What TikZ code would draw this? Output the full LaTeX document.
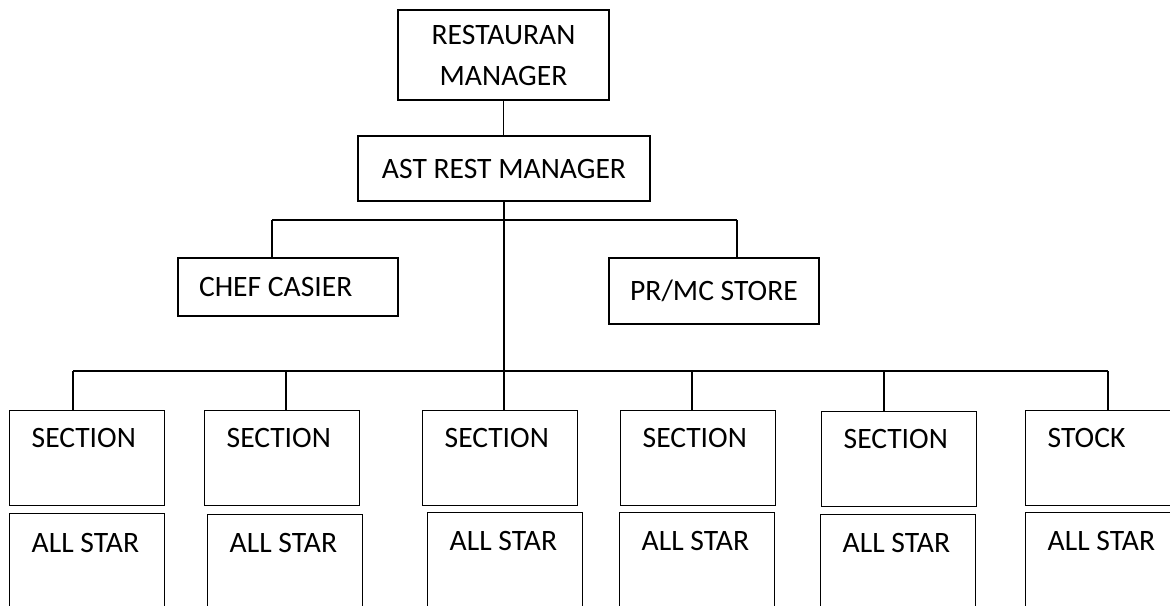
\documentclass[tikz,border=0pt]{standalone}
\usepackage{fontspec}
\setmainfont{Carlito}
\usepackage{tikz}

\tikzset{
  poste/.style={draw, inner sep=0pt, font=\fontsize{14.8}{20.5}\selectfont},
  postec/.style={poste, align=center},
  postel/.style={poste, anchor=north west, text width=55.5pt, inner xsep=11pt, align=flush left},
}

\begin{document}
\begin{tikzpicture}[x=0.5pt, y=-0.5pt, line width=0.7pt]

% Cadre de la page
\useasboundingbox (0,0) rectangle (1170,605);
\clip (0,0) rectangle (1170,605);

% Direction
\node[postec, minimum width=105.5pt, minimum height=45pt] (rm) at (503.5,55) {RESTAURAN\\MANAGER};
\node[postec, minimum width=146pt, minimum height=32.5pt] (ast) at (504,168.5) {AST REST MANAGER};

% Liaison direction - adjoint
\draw (rm.south) -- (rm.south |- ast.north);

% Deuxieme niveau
\node[poste, minimum height=29pt, text width=89pt, inner xsep=10.5pt, align=flush left] (chef) at (288,287) {CHEF CASIER};
\node[postec, minimum width=105pt, minimum height=33pt] (prmc) at (714,291) {PR/MC STORE};

% Barre du deuxieme niveau
\coordinate (b1g) at (272,220);
\coordinate (b1d) at (737,220);
\draw (b1g) -- (b1d);
\draw (b1g) -- (b1g |- chef.north);
\draw (b1d) -- (b1d |- prmc.north);

% Sections (haut)
\node[postel, text height=18.5pt, text depth=29pt] (s1) at (9,410) {SECTION};
\node[postel, text height=18.5pt, text depth=29pt] (s2) at (204,410) {SECTION};
\node[postel, text height=18.5pt, text depth=29pt] (s3) at (422,410) {SECTION};
\node[postel, text height=18.5pt, text depth=29pt] (s4) at (620,410) {SECTION};
\node[postel, text height=18.5pt, text depth=29pt] (s5) at (821,411) {SECTION};
\node[postel, text height=18.5pt, text depth=29pt] (s6) at (1025,410) {STOCK};

% All star (bas, coupes par le bord)
\node[postel, text height=19.5pt, text depth=40pt] (a1) at (9,513) {ALL STAR};
\node[postel, text height=19pt, text depth=40pt] (a2) at (207,514) {ALL STAR};
\node[postel, text height=19pt, text depth=40pt] (a3) at (427,512) {ALL STAR};
\node[postel, text height=19pt, text depth=40pt] (a4) at (619,512) {ALL STAR};
\node[postel, text height=19pt, text depth=40pt] (a5) at (820,514) {ALL STAR};
\node[postel, text height=19pt, text depth=40pt] (a6) at (1025,512) {ALL STAR};

% Tronc central
\draw (ast.south) -- (ast.south |- s3.north);

% Barre des sections
\coordinate (b2g) at (73,371);
\coordinate (b2d) at (1108,371);
\draw (b2g) -- (b2d);
\draw (b2g) -- (b2g |- s1.north);
\draw (286,371) -- (286,371 |- s2.north);
\draw (692,371) -- (692,371 |- s4.north);
\draw (884,371) -- (884,371 |- s5.north);
\draw (b2d) -- (b2d |- s6.north);

\end{tikzpicture}
\end{document}
